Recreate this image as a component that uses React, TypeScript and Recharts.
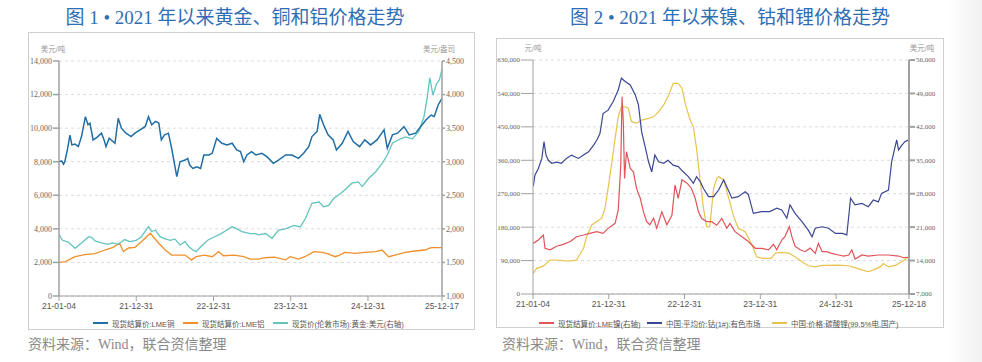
import React from 'react';
import { LineChart, Line, XAxis, YAxis, CartesianGrid } from 'recharts';

// ---------- Chart 1 data (x = months since 2021-01-04) ----------
const copperX = [0,0.4,0.7,0.9,1.3,1.7,2.0,2.5,3.0,3.5,4.1,4.5,4.8,5.3,5.9,6.6,7.0,7.3,7.8,8.7,9.2,9.7,10.4,11.2,11.8,12.6,13.4,13.9,14.4,15.0,15.5,15.9,16.4,17.0,17.5,18.3,18.8,19.6,20.0,20.3,20.8,21.4,22.0,22.5,23.3,23.8,24.5,25.3,26.1,26.9,27.6,28.2,28.7,29.2,29.9,30.6,31.5,32.3,33.3,34.1,35.2,36.2,37.2,38.0,38.8,39.3,40.1,40.5,41.1,41.8,42.6,43.1,44.0,44.9,45.7,46.7,47.5,48.4,49.4,50.5,51.0,51.8,52.6,53.6,54.4,55.4,56.2,57.0,57.8,58.3,58.9,59.5];
const copperY = [8000,8050,7850,8000,8700,9590,9000,9050,8900,9500,10680,10200,10300,9300,9450,9700,9300,8900,9400,9100,10590,10000,9700,9500,9700,9890,10100,10680,10200,10400,10300,9300,9600,9700,8800,7110,8000,8100,8200,7800,7600,7700,7600,8400,8400,8500,9390,9100,9000,9100,8700,8600,8000,8400,8600,8400,8500,8300,7900,8100,8400,8400,8200,8500,8900,9500,9800,10820,10200,9600,9300,8700,9100,9800,9200,8900,9300,9000,9300,9900,8800,9600,9700,10090,9600,9700,10100,10480,10780,10700,11380,11780];

const aluX = [0,1.0,2.5,4.0,5.6,7.1,8.4,9.4,10.0,10.8,11.8,12.8,13.6,14.2,14.7,15.5,16.5,17.5,18.5,19.6,20.6,21.3,22.6,23.8,24.8,25.5,27.2,28.7,29.7,31.0,32.0,33.5,35.2,35.9,37.2,38.2,39.6,40.9,41.9,42.9,43.6,44.4,46.0,47.5,49.2,50.2,51.2,52.2,53.8,55.3,56.8,57.8,59.5];
const aluY = [2007,2050,2340,2460,2520,2740,2900,3140,2650,2860,2900,3235,3530,3735,3500,3140,2740,2440,2440,2440,2140,2340,2440,2340,2640,2400,2440,2340,2200,2200,2280,2310,2150,2340,2200,2340,2640,2600,2490,2340,2440,2600,2540,2600,2640,2740,2340,2440,2600,2680,2740,2880,2880];

const goldX = [0,0.5,1.5,2.5,3.5,4.6,5.1,5.6,6.6,7.6,8.3,9.2,10.2,11.0,12.0,12.8,13.9,14.4,15.0,15.7,16.5,17.3,18.0,18.8,19.6,20.1,20.8,21.3,22.1,23.1,24.2,25.2,26.2,26.9,27.7,28.4,29.7,30.5,31.0,32.1,33.1,34.1,35.2,36.5,37.5,38.3,39.3,40.4,41.1,41.9,42.7,43.4,44.4,45.5,46.5,47.1,48.1,49.2,50.2,51.0,51.8,52.8,53.8,54.9,55.9,56.7,57.2,57.6,58.1,58.6,59.1,59.5];
const goldY = [1920,1834,1800,1710,1790,1883,1870,1820,1790,1770,1790,1770,1840,1810,1830,1883,2032,1960,1980,1883,1850,1830,1850,1760,1810,1740,1685,1660,1740,1830,1883,1930,1990,2030,2000,1960,1930,1930,1910,1930,1860,1980,2000,2050,2030,2157,2380,2400,2330,2350,2455,2500,2580,2680,2700,2630,2750,2850,2975,3100,3275,3330,3370,3340,3447,3670,3950,4250,3990,4150,4220,4380];

const chart1XTicks = [0, 12, 24, 36, 48, 59.5];
const chart1XLabels = ['21-01-04', '21-12-31', '22-12-31', '23-12-31', '24-12-31', '25-12-17'];
const chart1LeftTicks = [0, 2000, 4000, 6000, 8000, 10000, 12000, 14000];
const chart1RightTicks = [1000, 1500, 2000, 2500, 3000, 3500, 4000, 4500];

// ---------- Chart 2 data ----------
const nickelX = [0.05,0.85,1.64,1.9,2.7,3.75,4.8,5.9,6.9,8.0,9.0,10.1,11.1,11.9,13.0,13.5,13.9,14.1,14.3,14.5,14.8,15.4,15.9,16.4,17.0,17.5,18.0,18.5,19.1,19.6,20.4,21.2,22.0,22.5,23.0,23.6,24.4,25.1,25.7,26.2,26.7,27.5,28.3,29.1,29.9,30.7,31.2,32.0,33.1,34.1,35.2,36.2,37.3,38.1,38.6,39.4,39.9,40.6,41.0,41.5,42.3,43.1,43.9,44.7,45.2,45.8,46.5,47.3,48.4,49.2,50.0,50.5,51.0,52.1,53.1,54.7,56.3,57.9,58.7,59.5];
const nickelY = [17600,18300,19350,16570,16250,17000,17400,18000,19000,19350,19700,20050,19700,20750,21800,24600,34000,48300,43000,31200,36800,33300,32600,29100,27000,24200,22150,21500,22850,20750,24200,21500,23500,29800,27000,30900,30200,29100,27000,24200,22850,22150,22150,21400,22850,20750,21800,20050,19000,18000,16570,16570,16250,17400,16250,18300,19000,21100,19000,17000,16250,15860,16600,15500,17600,15860,15860,15500,15170,14950,15170,16250,14330,15170,14950,15170,15170,14950,14600,14700];

const cobaltX = [0.05,0.3,0.85,1.4,1.74,2.06,2.43,2.96,3.75,4.5,5.3,6.1,7.2,8.0,8.8,9.6,10.1,10.6,11.1,11.9,12.7,13.5,14.0,14.6,15.4,16.2,16.7,17.2,17.7,18.3,18.8,19.3,19.9,20.7,21.4,22.2,23.0,23.8,24.6,25.4,25.9,26.5,27.0,27.8,28.6,29.4,30.2,31.5,32.5,33.6,34.1,34.9,36.2,37.5,38.6,39.4,40.2,40.7,41.5,42.6,43.6,44.2,44.7,45.8,46.8,47.9,49.0,49.7,50.3,51.0,52.1,53.1,53.9,54.7,55.2,56.3,56.8,57.6,57.9,58.4,58.9,59.5];
const cobaltY = [290000,320000,338000,365000,410000,374000,360000,352000,355000,352000,365000,374000,365000,374000,383000,401000,414000,432000,486000,495000,518000,549000,581000,572000,563000,536000,509000,437000,401000,356000,329000,374000,356000,352000,360000,347000,343000,329000,316000,298000,316000,302000,284000,262000,262000,280000,307000,258000,262000,275000,268000,217000,222000,222000,231000,226000,204000,240000,217000,195000,172000,154000,177000,181000,177000,163000,163000,159000,258000,240000,244000,235000,253000,248000,271000,280000,356000,415000,388000,400000,410000,415000];

const lithiumX = [0.05,0.58,1.64,2.7,3.75,4.8,5.9,6.9,8.0,8.5,9.3,10.1,10.9,11.4,11.9,12.5,13.0,13.5,14.0,14.6,15.1,15.6,16.4,17.2,18.3,19.1,19.9,20.7,21.5,22.2,23.0,23.6,24.1,24.9,25.4,25.9,26.5,27.0,27.5,28.0,28.6,29.1,29.4,30.2,31.0,31.7,32.5,33.6,34.7,35.4,36.4,37.7,38.4,39.4,40.5,41.5,42.6,43.6,44.7,45.8,46.8,47.9,48.9,50.0,51.0,52.1,53.1,53.9,55.0,55.5,56.3,57.4,58.4,59.2,59.5];
const lithiumY = [55700,69000,75000,91500,91500,90000,89000,91500,123000,154000,186000,195000,204000,231000,285000,356000,419000,477000,504000,504000,500000,464000,460000,468000,473000,477000,491000,509000,536000,567000,567000,554000,513000,468000,450000,392000,302000,231000,181000,181000,284000,311000,316000,307000,258000,213000,177000,168000,132000,100000,96000,96000,110000,112000,110000,100000,87000,76000,73000,77000,77000,78000,77000,76000,71000,65000,60000,65000,73000,82000,73000,77000,87000,96000,100000];

const chart2XTicks = [0, 12, 24, 36, 48, 59.55];
const chart2XLabels = ['21-01-04', '21-12-31', '22-12-31', '23-12-31', '24-12-31', '25-12-18'];
const chart2LeftTicks = [0, 90000, 180000, 270000, 360000, 450000, 540000, 630000];
const chart2RightTicks = [7000, 14000, 21000, 28000, 35000, 42000, 49000, 56000];

const zip = (xs: number[], ys: number[]) => xs.map((x, i) => ({ x, y: ys[i] }));
const fmt = (v: number) => v.toLocaleString('en-US');

const SERIF = '"Liberation Serif", "Noto Sans CJK SC", serif';
const SANS = '"Liberation Sans", "Noto Sans CJK SC", sans-serif';
const AXIS = '#a0a0a0';

const abs = (l: number, t: number, extra: React.CSSProperties = {}): React.CSSProperties => ({
  position: 'absolute', left: l, top: t, ...extra,
});

function LegendItem({ left, color, label }: { left: number; color: string; label: string }) {
  return (
    <div style={abs(left, 318, { display: 'flex', alignItems: 'center', height: 10, whiteSpace: 'nowrap' })}>
      <div style={{ width: 15, height: 2, background: color, marginRight: 4 }} />
      <span style={{ fontFamily: SANS, fontSize: 7.5, color: '#555' }}>{label}</span>
    </div>
  );
}

export default function App() {
  const copper = zip(copperX, copperY);
  const alu = zip(aluX, aluY);
  const gold = zip(goldX, goldY);
  const nickel = zip(nickelX, nickelY);
  const cobalt = zip(cobaltX, cobaltY);
  const lithium = zip(lithiumX, lithiumY);

  const xTick = { fill: '#555', fontSize: 8.5, fontFamily: SANS };

  return (
    <div style={{ position: 'fixed', left: 0, top: 0, width: 982, height: 362, background: '#fff', overflow: 'hidden' }}>
      <div style={abs(948, 0, { width: 34, height: 362, background: 'linear-gradient(90deg, #ffffff, #f1f1f1)' })} />

      {/* Titles */}
      <div style={abs(0, 2, { width: 470, textAlign: 'center', fontFamily: SERIF, fontSize: 19, color: '#2f6db5', whiteSpace: 'nowrap' })}>
        图 1 • 2021 年以来黄金、铜和铝价格走势
      </div>
      <div style={abs(491, 2, { width: 478, textAlign: 'center', fontFamily: SERIF, fontSize: 19, color: '#2f6db5', whiteSpace: 'nowrap' })}>
        图 2 • 2021 年以来镍、钴和锂价格走势
      </div>

      {/* Frames */}
      <div style={abs(28, 32, { width: 447, height: 298, border: '1.5px solid #cfcfcf', boxSizing: 'border-box' })} />
      <div style={abs(496, 38, { width: 448, height: 290, border: '1.5px solid #cfcfcf', boxSizing: 'border-box' })} />

      {/* Unit labels */}
      <div style={abs(33, 43, { width: 40, textAlign: 'center', fontFamily: SANS, fontSize: 7.5, color: '#999' })}>美元/吨</div>
      <div style={abs(414, 43, { width: 50, textAlign: 'center', fontFamily: SANS, fontSize: 7.5, color: '#999' })}>美元/盎司</div>
      <div style={abs(513, 42, { width: 40, textAlign: 'center', fontFamily: SANS, fontSize: 7.5, color: '#999' })}>元/吨</div>
      <div style={abs(902, 42, { width: 40, textAlign: 'center', fontFamily: SANS, fontSize: 7.5, color: '#999' })}>美元/吨</div>

      {/* Chart 1 */}
      <div style={abs(0, 0)}>
        <LineChart width={490} height={330} margin={{ top: 61, right: 8, bottom: 14, left: 19 }}>
          <CartesianGrid yAxisId="left" horizontal vertical={false} stroke="#dcdcdc" strokeDasharray="3 3" />
          <XAxis dataKey="x" type="number" domain={[0, 59.5]} ticks={chart1XTicks} height={20}
            tickFormatter={(v: number) => chart1XLabels[chart1XTicks.indexOf(v)]}
            stroke={AXIS} tick={xTick} tickSize={5} tickMargin={2} allowDataOverflow />
          <YAxis yAxisId="left" domain={[0, 14000]} ticks={chart1LeftTicks} width={40} tickFormatter={fmt}
            stroke={AXIS} strokeWidth={1.5} tick={{ fill: '#666', fontSize: 8, fontFamily: SERIF }} tickSize={6} tickMargin={1} allowDataOverflow />
          <YAxis yAxisId="right" orientation="right" domain={[1000, 4500]} ticks={chart1RightTicks} width={40} tickFormatter={fmt}
            stroke={AXIS} strokeWidth={1.5} tick={{ fill: '#666', fontSize: 8, fontFamily: SERIF }} tickSize={3} tickMargin={1} allowDataOverflow />
          <Line yAxisId="left" data={alu} dataKey="y" stroke="#f0902a" strokeWidth={1.3} dot={false} isAnimationActive={false} />
          <Line yAxisId="right" data={gold} dataKey="y" stroke="#62c4bd" strokeWidth={1.3} dot={false} isAnimationActive={false} />
          <Line yAxisId="left" data={copper} dataKey="y" stroke="#1f6ea6" strokeWidth={1.5} dot={false} isAnimationActive={false} />
        </LineChart>
      </div>

      {/* Chart 2 */}
      <div style={abs(491, 0)}>
        <LineChart width={470} height={330} margin={{ top: 60, right: 12, bottom: 16, left: 2 }}>
          <CartesianGrid yAxisId="left" horizontal vertical={false} stroke="#dcdcdc" strokeDasharray="3 3" />
          <XAxis dataKey="x" type="number" domain={[0, 59.55]} ticks={chart2XTicks} height={20}
            tickFormatter={(v: number) => chart2XLabels[chart2XTicks.indexOf(v)]}
            stroke={AXIS} tick={xTick} tickSize={5} tickMargin={2} allowDataOverflow />
          <YAxis yAxisId="left" domain={[0, 630000]} ticks={chart2LeftTicks} width={40} tickFormatter={fmt}
            stroke={AXIS} tick={{ fill: '#666', fontSize: 7, fontFamily: SERIF }} tickSize={12} tickMargin={1} allowDataOverflow />
          <YAxis yAxisId="right" orientation="right" domain={[7000, 56000]} ticks={chart2RightTicks} width={40} tickFormatter={fmt}
            stroke={AXIS} strokeWidth={2} tick={{ fill: '#666', fontSize: 7, fontFamily: SERIF }} tickSize={6} tickMargin={1} allowDataOverflow />
          <Line yAxisId="left" data={lithium} dataKey="y" stroke="#e8c34c" strokeWidth={1.2} dot={false} isAnimationActive={false} />
          <Line yAxisId="right" data={nickel} dataKey="y" stroke="#e0545a" strokeWidth={1.2} dot={false} isAnimationActive={false} />
          <Line yAxisId="left" data={cobalt} dataKey="y" stroke="#3b4794" strokeWidth={1.2} dot={false} isAnimationActive={false} />
        </LineChart>
      </div>

      {/* Legends */}
      <LegendItem left={93} color="#1f6ea6" label="现货结算价:LME铜" />
      <LegendItem left={183} color="#f0902a" label="现货结算价:LME铝" />
      <LegendItem left={273} color="#62c4bd" label="现货价(伦敦市场):黄金:美元(右轴)" />
      <LegendItem left={539} color="#e0545a" label="现货结算价:LME镍(右轴)" />
      <LegendItem left={647} color="#3b4794" label="中国:平均价:钴(1#):有色市场" />
      <LegendItem left={772} color="#e8c34c" label="中国:价格:碳酸锂(99.5%电,国产)" />

      {/* Sources */}
      <div style={abs(28, 333, { fontFamily: SERIF, fontSize: 14, color: '#8a8a8a', whiteSpace: 'nowrap' })}>资料来源：Wind，联合资信整理</div>
      <div style={abs(502, 333, { fontFamily: SERIF, fontSize: 14, color: '#8a8a8a', whiteSpace: 'nowrap' })}>资料来源：Wind，联合资信整理</div>
    </div>
  );
}
